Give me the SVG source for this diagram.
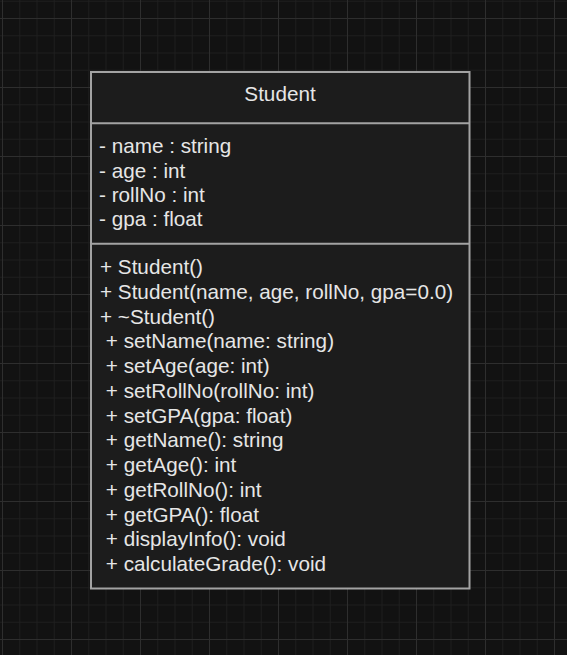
<svg xmlns="http://www.w3.org/2000/svg" width="567" height="655" viewBox="0 0 567 655">
  <defs>
    <pattern id="grid" x="2" y="18" width="69" height="69" patternUnits="userSpaceOnUse">
      <rect x="0" y="0" width="69" height="69" fill="#121212"/>
      <g fill="#1e1e1e">
        <rect x="17.25" y="0" width="1" height="69"/>
        <rect x="34.5" y="0" width="1" height="69"/>
        <rect x="51.75" y="0" width="1" height="69"/>
        <rect x="0" y="17.25" width="69" height="1"/>
        <rect x="0" y="34.5" width="69" height="1"/>
        <rect x="0" y="51.75" width="69" height="1"/>
      </g>
      <g fill="#2e2e2e">
        <rect x="0" y="0" width="1" height="69"/>
        <rect x="0" y="0" width="69" height="1"/>
      </g>
    </pattern>
  </defs>
  <style>
    .box { fill: #1c1c1c; stroke: #a3a3a3; stroke-width: 2; }
    .div { stroke: #a3a3a3; stroke-width: 2; }
    text { font-family: "Liberation Sans", Arial, sans-serif; font-size: 20.7px; fill: #e6e6e6; }
    .title { text-anchor: middle; }
  </style>
  <rect x="0" y="0" width="567" height="655" fill="url(#grid)"/>
  <g id="Student">
    <rect class="box" x="91" y="72" width="378.5" height="516.5"/>
    <line class="div" x1="91" y1="123.2" x2="469.5" y2="123.2"/>
    <line class="div" x1="91" y1="243.8" x2="469.5" y2="243.8"/>
    <text class="title" x="280" y="101.3">Student</text>
    <g id="attributes">
      <text x="99" y="153.3">- name : string</text>
      <text x="99" y="177.7">- age : int</text>
      <text x="99" y="202">- rollNo : int</text>
      <text x="99" y="226.4">- gpa : float</text>
    </g>
    <g id="methods">
      <text x="100" y="274">+ Student()</text>
      <text x="100" y="298.75">+ Student(name, age, rollNo, gpa=0.0)</text>
      <text x="100" y="323.5">+ ~Student()</text>
      <text x="105.8" y="348.25">+ setName(name: string)</text>
      <text x="105.8" y="373">+ setAge(age: int)</text>
      <text x="105.8" y="397.75">+ setRollNo(rollNo: int)</text>
      <text x="105.8" y="422.5">+ setGPA(gpa: float)</text>
      <text x="105.8" y="447.25">+ getName(): string</text>
      <text x="105.8" y="472">+ getAge(): int</text>
      <text x="105.8" y="496.75">+ getRollNo(): int</text>
      <text x="105.8" y="521.5">+ getGPA(): float</text>
      <text x="105.8" y="546.25">+ displayInfo(): void</text>
      <text x="105.8" y="571">+ calculateGrade(): void</text>
    </g>
  </g>
  <g id="connectors"/>
</svg>
